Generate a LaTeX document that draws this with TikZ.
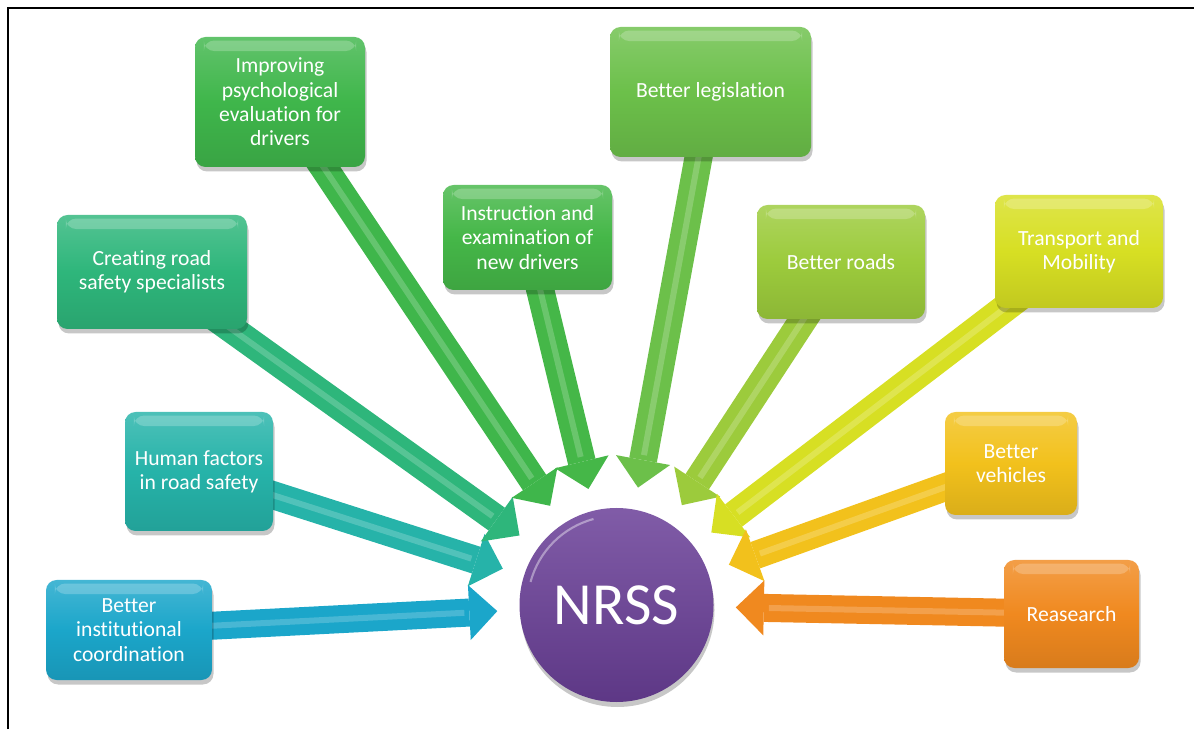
\documentclass[tikz,border=0pt]{standalone}
\usepackage{fontspec}
\setmainfont{Carlito}[Ligatures=CommonOff]
\definecolor{instblue}{HTML}{1BA6CA}
\definecolor{humanteal}{HTML}{26B3A9}
\definecolor{specgreen}{HTML}{2EB67B}
\definecolor{psychgreen}{HTML}{3FB64B}
\definecolor{examgreen}{HTML}{45B748}
\definecolor{lawgreen}{HTML}{6CC04A}
\definecolor{roadlime}{HTML}{9CCB3C}
\definecolor{mobyellow}{HTML}{D7DF23}
\definecolor{vehgold}{HTML}{F2C11C}
\definecolor{resorange}{HTML}{F0891F}
\definecolor{nrsspurple}{HTML}{6A3F98}
\usetikzlibrary{arrows.meta, shadows, backgrounds}

\begin{document}
\begin{tikzpicture}[
    card/.style={rounded corners=6pt, align=center, text=white,
                 font=\fontsize{12.3}{13.8}\selectfont,
                 top color=#1!82!white, bottom color=#1!90!black, middle color=#1,
                 drop shadow={shadow xshift=0.03cm, shadow yshift=-0.09cm,
                              opacity=0.22, fill=black},
                 path picture={\fill[white, opacity=0.22]
                   ([xshift=5pt, yshift=-2pt]path picture bounding box.north west) rectangle
                   ([xshift=-5pt, yshift=-8pt]path picture bounding box.north east);}},
    feed/.style={draw=#1, line width=0.56cm, shorten >=0.44cm,
                 -{Triangle[width=1.1cm, length=0.56cm, line width=0pt]}},
    gloss/.style={draw=white, opacity=0.2, line width=0.12cm, shorten >=1.1cm}
  ]
  \useasboundingbox (0,0) rectangle (23.88,14.58);
  \draw[line width=1.4pt] (0.16,0) -- (0.16,14.42) -- (23.88,14.42);

  % left side
  \node[card=instblue, minimum width=3.32cm, minimum height=2cm] (inst) at (2.58,1.98)
    {Better\\institutional\\coordination};
  \node[card=humanteal, minimum width=2.96cm, minimum height=2.38cm] (human) at (3.98,5.15)
    {Human factors\\in road safety};
  \node[card=specgreen, minimum width=3.8cm, minimum height=2.28cm] (spec) at (3.04,9.14)
    {Creating road\\safety specialists};
  \node[card=psychgreen, minimum width=3.4cm, minimum height=2.6cm] (psych) at (5.6,12.54)
    {Improving\\psychological\\evaluation for\\drivers};
  \node[card=examgreen, minimum width=3.38cm, minimum height=2.1cm] (exam) at (10.55,9.83)
    {Instruction and\\examination of\\new drivers};

  % right side
  \node[card=lawgreen, minimum width=4.02cm, minimum height=2.6cm] (law) at (14.21,12.74)
    {Better legislation};
  \node[card=roadlime, minimum width=3.36cm, minimum height=2.28cm] (road) at (16.82,9.34)
    {Better roads};
  \node[card=mobyellow, minimum width=3.36cm, minimum height=2.26cm] (mob) at (21.58,9.55)
    {Transport and\\Mobility};
  \node[card=vehgold, minimum width=2.64cm, minimum height=2.06cm] (veh) at (20.22,5.31)
    {Better\\vehicles};
  \node[card=resorange, minimum width=2.7cm, minimum height=2.16cm] (res) at (21.43,2.3)
    {Reasearch};

  % the strategy in the middle
  \node[circle, minimum size=3.88cm, inner sep=0pt, text=white,
        font=\fontsize{34}{40}\selectfont,
        top color=nrsspurple!85!white, bottom color=nrsspurple!88!black,
        drop shadow={shadow xshift=0.02cm, shadow yshift=-0.1cm, opacity=0.22, fill=black}]
    (nrss) at (12.33,2.48) {NRSS};
  \draw[white, opacity=0.4, line width=1.2pt]
    ([shift={(105:1.78)}]nrss.center) arc[start angle=105, end angle=165, radius=1.78];

  \begin{scope}[on background layer]
    \draw[feed=instblue] (inst.center) -- (nrss);
    \draw[feed=humanteal] (human.center) -- (nrss);
    \draw[feed=specgreen] (spec.center) -- (nrss);
    \draw[feed=psychgreen] (psych.center) -- (nrss);
    \draw[feed=examgreen] (exam.center) -- (nrss);
    \draw[feed=lawgreen] (law.center) -- (nrss);
    \draw[feed=roadlime] (road.center) -- (nrss);
    \draw[feed=mobyellow] (mob.center) -- (nrss);
    \draw[feed=vehgold] (veh.center) -- (nrss);
    \draw[feed=resorange] (res.center) -- (nrss);

    \draw[gloss] (inst.center) -- (nrss);
    \draw[gloss] (human.center) -- (nrss);
    \draw[gloss] (spec.center) -- (nrss);
    \draw[gloss] (psych.center) -- (nrss);
    \draw[gloss] (exam.center) -- (nrss);
    \draw[gloss] (law.center) -- (nrss);
    \draw[gloss] (road.center) -- (nrss);
    \draw[gloss] (mob.center) -- (nrss);
    \draw[gloss] (veh.center) -- (nrss);
    \draw[gloss] (res.center) -- (nrss);
  \end{scope}
\end{tikzpicture}
\end{document}
